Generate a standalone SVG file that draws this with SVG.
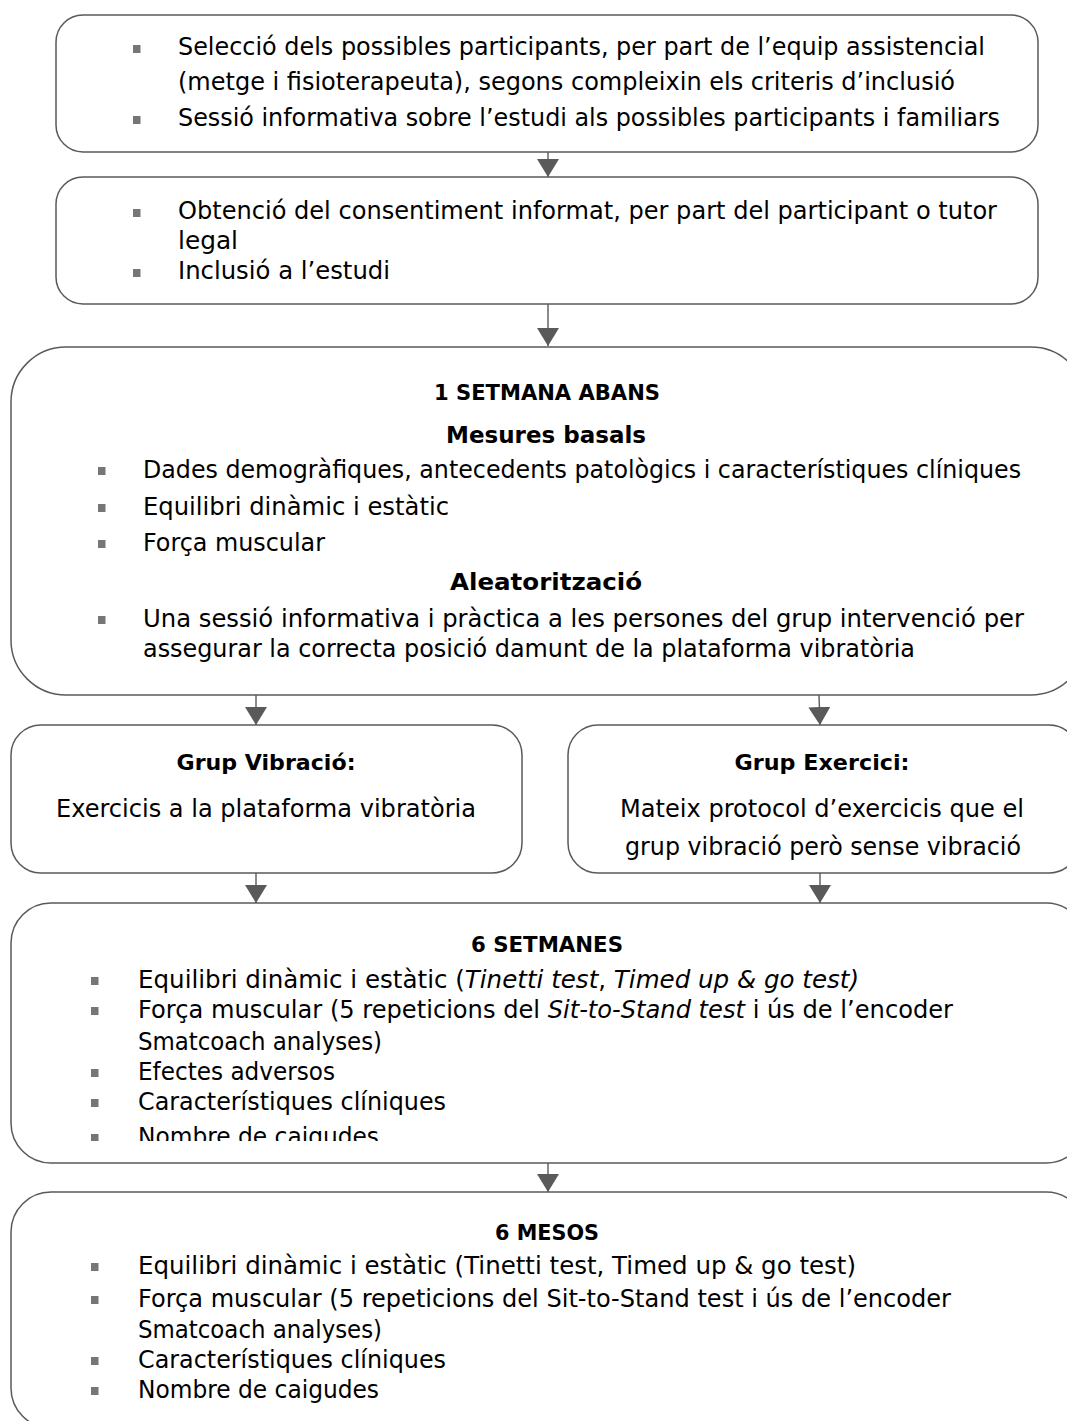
<svg xmlns="http://www.w3.org/2000/svg" width="1067" height="1421" viewBox="0 0 1067 1421">
<style>
.box{fill:#fff;stroke:#5a5a5a;stroke-width:1.5}
.t{font-family:"DejaVu Sans",sans-serif;font-size:24px;fill:#000}
.h{font-family:"DejaVu Sans",sans-serif;font-weight:bold;fill:#000}
.c{text-anchor:middle}
.bl{fill:#767676}
.conn{stroke:#5a5a5a;stroke-width:1.4;fill:none}
.i{font-style:italic}
</style>
<defs>
<marker id="ah" viewBox="0 -11 18 22" refX="18" refY="0" markerWidth="18" markerHeight="22" markerUnits="userSpaceOnUse" orient="auto">
<path d="M0,-11 L18,0 L0,11 z" fill="#5a5a5a"/>
</marker>
<clipPath id="clip6s"><rect x="0" y="900" width="1100" height="241"/></clipPath>
</defs>
<rect width="1067" height="1421" fill="#fff"/>

<g id="connectors">
<path class="conn" d="M548,152 V177" marker-end="url(#ah)"/>
<path class="conn" d="M548,304 V346" marker-end="url(#ah)"/>
<path class="conn" d="M256,695 V725" marker-end="url(#ah)"/>
<path class="conn" d="M819,695 L820,725" marker-end="url(#ah)"/>
<path class="conn" d="M256,873 V903" marker-end="url(#ah)"/>
<path class="conn" d="M820,873 V903" marker-end="url(#ah)"/>
<path class="conn" d="M548,1163 V1192" marker-end="url(#ah)"/>
</g>

<g id="seleccio">
<rect class="box" x="56" y="15" width="982" height="137" rx="27"/>
<rect class="bl" x="133" y="45" width="7.5" height="8"/>
<text class="t" x="178" y="55" textLength="807" lengthAdjust="spacingAndGlyphs">Selecció dels possibles participants, per part de l’equip assistencial</text>
<text class="t" x="178" y="90" textLength="777" lengthAdjust="spacingAndGlyphs">(metge i fisioterapeuta), segons compleixin els criteris d’inclusió</text>
<rect class="bl" x="133" y="116" width="7.5" height="8"/>
<text class="t" x="178" y="126" textLength="822" lengthAdjust="spacingAndGlyphs">Sessió informativa sobre l’estudi als possibles participants i familiars</text>
</g>

<g id="consentiment">
<rect class="box" x="56" y="177" width="982" height="127" rx="27"/>
<rect class="bl" x="133" y="209" width="7.5" height="8"/>
<text class="t" x="178" y="219" textLength="819" lengthAdjust="spacingAndGlyphs">Obtenció del consentiment informat, per part del participant o tutor</text>
<text class="t" x="178" y="249" textLength="60" lengthAdjust="spacingAndGlyphs">legal</text>
<rect class="bl" x="133" y="269" width="7.5" height="8"/>
<text class="t" x="178" y="279" textLength="212" lengthAdjust="spacingAndGlyphs">Inclusió a l’estudi</text>
</g>

<g id="setmana-abans">
<rect class="box" x="11" y="347" width="1075" height="348" rx="55"/>
<text class="h c" x="547" y="400" font-size="20.5" textLength="226" lengthAdjust="spacingAndGlyphs">1 SETMANA ABANS</text>
<text class="h c" x="546" y="443" font-size="23" textLength="200" lengthAdjust="spacingAndGlyphs">Mesures basals</text>
<rect class="bl" x="98" y="467" width="7.5" height="8"/>
<text class="t" x="143" y="478" textLength="878" lengthAdjust="spacingAndGlyphs">Dades demogràfiques, antecedents patològics i característiques clíniques</text>
<rect class="bl" x="98" y="504" width="7.5" height="8"/>
<text class="t" x="143" y="515" textLength="306" lengthAdjust="spacingAndGlyphs">Equilibri dinàmic i estàtic</text>
<rect class="bl" x="98" y="540" width="7.5" height="8"/>
<text class="t" x="143" y="551" textLength="182" lengthAdjust="spacingAndGlyphs">Força muscular</text>
<text class="h c" x="546" y="590" font-size="23" textLength="192" lengthAdjust="spacingAndGlyphs">Aleatorització</text>
<rect class="bl" x="98" y="616" width="7.5" height="8"/>
<text class="t" x="143" y="627" textLength="881" lengthAdjust="spacingAndGlyphs">Una sessió informativa i pràctica a les persones del grup intervenció per</text>
<text class="t" x="143" y="657" textLength="772" lengthAdjust="spacingAndGlyphs">assegurar la correcta posició damunt de la plataforma vibratòria</text>
</g>

<g id="grup-vibracio">
<rect class="box" x="11" y="725" width="511" height="148" rx="30"/>
<text class="h c" x="266" y="770" font-size="22" textLength="179" lengthAdjust="spacingAndGlyphs">Grup Vibració:</text>
<text class="t c" x="266" y="817" textLength="420" lengthAdjust="spacingAndGlyphs">Exercicis a la plataforma vibratòria</text>
</g>

<g id="grup-exercici">
<rect class="box" x="568" y="725" width="511" height="148" rx="30"/>
<text class="h c" x="822" y="770" font-size="22" textLength="175" lengthAdjust="spacingAndGlyphs">Grup Exercici:</text>
<text class="t c" x="822" y="817" textLength="404" lengthAdjust="spacingAndGlyphs">Mateix protocol d’exercicis que el</text>
<text class="t c" x="823" y="855" textLength="396" lengthAdjust="spacingAndGlyphs">grup vibració però sense vibració</text>
</g>

<g id="sis-setmanes">
<rect class="box" x="11" y="903" width="1075" height="260" rx="40"/>
<text class="h c" x="547" y="952" font-size="21" textLength="152" lengthAdjust="spacingAndGlyphs">6 SETMANES</text>
<g clip-path="url(#clip6s)">
<rect class="bl" x="91" y="977" width="7.5" height="8"/>
<text class="t" x="138" y="988" textLength="721" lengthAdjust="spacingAndGlyphs">Equilibri dinàmic i estàtic (<tspan class="i">Tinetti test</tspan>, <tspan class="i">Timed up &amp; go test)</tspan></text>
<rect class="bl" x="91" y="1007" width="7.5" height="8"/>
<text class="t" x="138" y="1018" textLength="815" lengthAdjust="spacingAndGlyphs">Força muscular (5 repeticions del <tspan class="i">Sit-to-Stand test</tspan> i ús de l’encoder</text>
<text class="t" x="138" y="1050" textLength="244" lengthAdjust="spacingAndGlyphs">Smatcoach analyses)</text>
<rect class="bl" x="91" y="1069" width="7.5" height="8"/>
<text class="t" x="138" y="1080" textLength="197" lengthAdjust="spacingAndGlyphs">Efectes adversos</text>
<rect class="bl" x="91" y="1099" width="7.5" height="8"/>
<text class="t" x="138" y="1110" textLength="308" lengthAdjust="spacingAndGlyphs">Característiques clíniques</text>
<rect class="bl" x="91" y="1134" width="7.5" height="8"/>
<text class="t" x="138" y="1145" textLength="241" lengthAdjust="spacingAndGlyphs">Nombre de caigudes</text>
</g>
</g>

<g id="sis-mesos">
<rect class="box" x="11" y="1192" width="1075" height="236" rx="40"/>
<text class="h c" x="547" y="1240" font-size="21" textLength="104" lengthAdjust="spacingAndGlyphs">6 MESOS</text>
<rect class="bl" x="91" y="1263" width="7.5" height="8"/>
<text class="t" x="138" y="1274" textLength="718" lengthAdjust="spacingAndGlyphs">Equilibri dinàmic i estàtic (Tinetti test, Timed up &amp; go test)</text>
<rect class="bl" x="91" y="1296" width="7.5" height="8"/>
<text class="t" x="138" y="1307" textLength="813" lengthAdjust="spacingAndGlyphs">Força muscular (5 repeticions del Sit-to-Stand test i ús de l’encoder</text>
<text class="t" x="138" y="1338" textLength="244" lengthAdjust="spacingAndGlyphs">Smatcoach analyses)</text>
<rect class="bl" x="91" y="1357" width="7.5" height="8"/>
<text class="t" x="138" y="1368" textLength="308" lengthAdjust="spacingAndGlyphs">Característiques clíniques</text>
<rect class="bl" x="91" y="1387" width="7.5" height="8"/>
<text class="t" x="138" y="1398" textLength="241" lengthAdjust="spacingAndGlyphs">Nombre de caigudes</text>
</g>
</svg>
